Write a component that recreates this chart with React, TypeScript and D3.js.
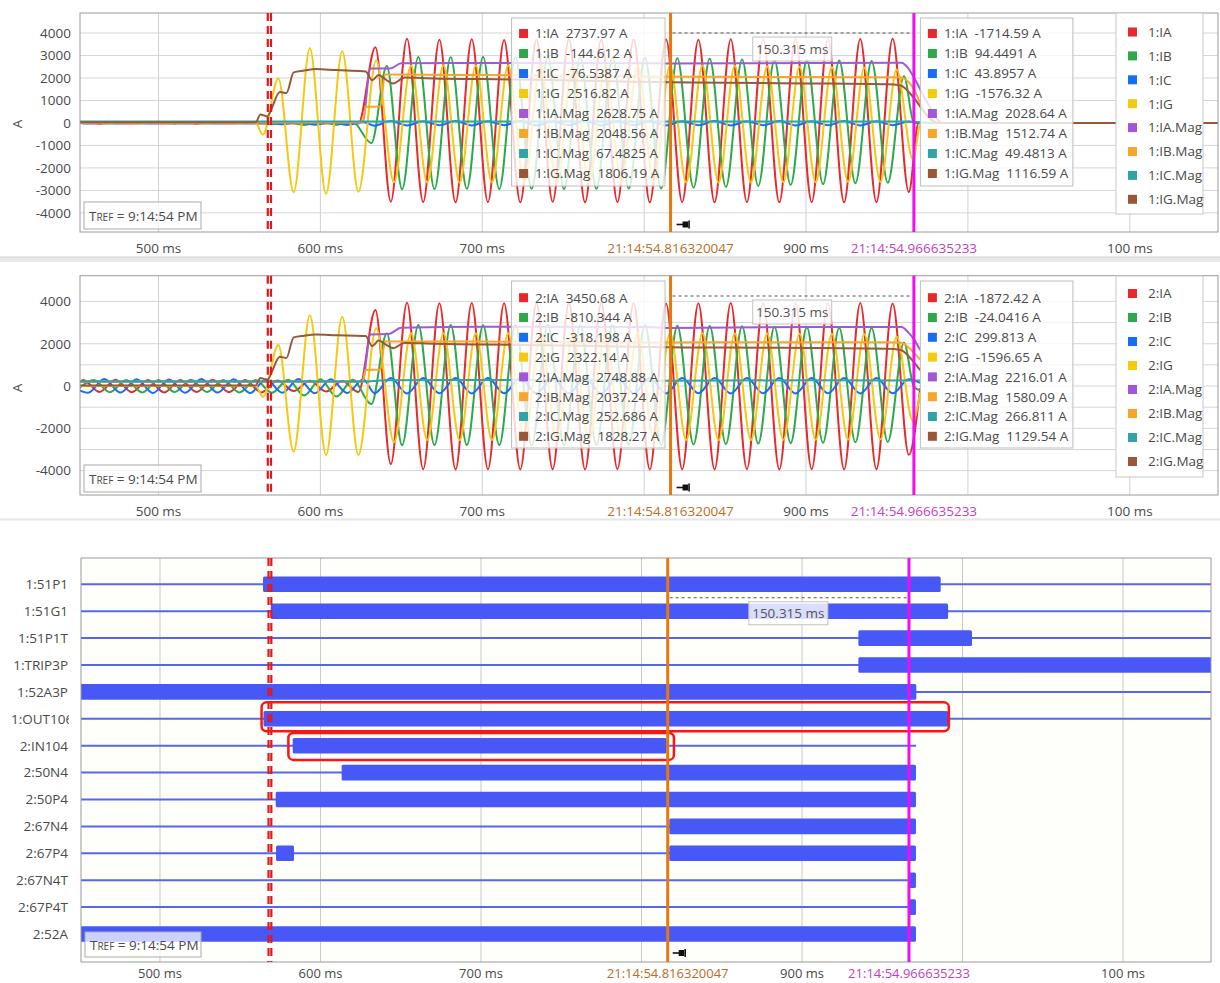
import React from 'react';
import * as d3 from 'd3';

type Pt = [number, number];

const FONT = '"Open Sans", "Noto Sans", "DejaVu Sans", sans-serif';
const TXT = '#4a4a4a';

const SERIES_KEYS = ['IA', 'IB', 'IC', 'IG', 'IA.Mag', 'IB.Mag', 'IC.Mag', 'IG.Mag'];
const SERIES_COLORS = ['#e8292c', '#2ea84b', '#176ef3', '#f4c90e', '#a158d8', '#f7a52b', '#2fa4a8', '#9a5738'];

const TICK_MS = [500, 600, 700, 800, 900, 1000, 1100];
const TICK_LABELS = ['500 ms', '600 ms', '700 ms', '', '900 ms', '', '100 ms'];

const TRIGGER_MS = 568.5;
const CURSOR_A_MS = 816.320047;
const CURSOR_B_MS = 966.635233;
const CURSOR_A_LABEL = '21:14:54.816320047';
const CURSOR_B_LABEL = '21:14:54.966635233';
const DELTA_LABEL = '150.315 ms';

// ---- time grids (ms after 21:14:54) of waveform extremes ----
const T_A_PRE = [453.5, 463.5, 473.5, 483.5, 493.5, 503.5, 513.5, 523.5, 533.5, 543.5, 553.5, 563.5, 573.5, 583.5, 593.5, 603.5, 613.5, 623.5];
const T_A = [634, 643.5, 653.5, 663.5, 673.5, 683.5, 693.5, 703.5, 713.5, 723.5, 733.5, 743.5, 753.5, 763.5, 773.5, 783.5, 793.5, 803.5, 813.5, 823.5, 833.5, 843.5, 853.5, 863.5, 873.5, 883.5, 893.5, 903.5, 913.5, 923.5, 933.5, 943.5, 953.5, 963.5];
const T_B_PRE = [460, 470, 480, 490, 500, 510, 520, 530, 540, 550, 560, 570, 580, 590, 600, 610, 620];
const T_B = [631.5, 641, 650.5, 660.5, 670.5, 680.5, 690.5, 700.5, 710.5, 720.5, 730.5, 740.5, 750.5, 760.5, 770.5, 780.5, 790.5, 800.5, 810.5, 820.5, 830.5, 840.5, 850.5, 860.5, 870.5, 880.5, 890.5, 900.5, 910.5, 920.5, 930.5, 940.5, 950.5, 960.5];
const T_C_PRE = [456.5, 466.5, 476.5, 486.5, 496.5, 506.5, 516.5, 526.5, 536.5, 546.5, 556.5, 566.5, 576.5, 586.5, 596.5, 606.5, 616.5, 626.5];
const T_C = [633.5, 643.5, 653.5, 663.5, 673.5, 683.5, 693.5, 703.5, 713.5, 723.5, 733.5, 743.5, 753.5, 763.5, 773.5, 783.5, 793.5, 803.5, 813.5, 823.5, 833.5, 843.5, 853.5, 863.5, 873.5, 883.5, 893.5, 903.5, 913.5, 923.5, 933.5, 943.5, 953.5, 963.5];
const T_G = [564.5, 574, 583.5, 593.5, 603.5, 613.5, 623.5, 634.5, 645.5, 656, 666, 676, 686, 696, 706, 716, 726, 736, 746, 756, 766, 776, 786, 796, 806, 816, 826, 836, 846, 856, 866, 876, 886, 896, 906, 916, 926, 936, 946, 956, 966];

// ---- relay 1 (panel 1) extreme values, A ----
const P1_IA_PRE = [30, -32, 28, -30, 32, -28, 30, -31, 29, -30, 31, -29, 20, -22, 18, -20, 22, -20];
const P1_IA = [3370, -3500, 3740, -3520, 3700, -3530, 3720, -3520, 3690, -3530, 3710, -3510, 3720, -3530, 3700, -3520, 3710, -3530, 3720, -3520, 3700, -3530, 3720, -3520, 3710, -3530, 3730, -3520, 3720, -3530, 3730, -3520, 3750, -3080];
const P1_IB_PRE = [30, -28, 31, -30, 29, -31, 30, -29, 31, -30, 28, -60, 40, -90, 50, -80, 40];
const P1_IB = [-900, 2530, -2950, 2930, -2940, 2920, -2930, 2930, -2940, 2920, -2930, 2930, -2940, 2920, -2930, 2910, -2920, 2900, -2910, 2880, -2880, 2850, -2850, 2820, -2800, 2800, -2760, 2790, -2720, 2780, -2680, 2760, -2660, 2080];
const P1_IC_PRE = [-30, 25, -28, 30, -25, 28, -30, 26, -28, 30, -25, 28, -60, 40, -80, 30, -90, 40];
const P1_IC = [-120, 90, -110, 80, -100, 90, -110, 80, -100, 90, -110, 80, -100, 90, -110, 80, -100, 90, -110, 80, -100, 90, -110, 80, -100, 90, -110, 80, -100, 90, -110, 80, -100, 60];
const P1_IG = [-520, 1980, -3080, 3320, -3150, 3190, -3060, 2780, -2640, 2560, -2650, 2570, -2660, 2560, -2650, 2570, -2660, 2560, -2650, 2560, -2660, 2570, -2650, 2560, -2660, 2550, -2650, 2560, -2660, 2540, -2650, 2520, -2640, 2500, -2640, 2480, -2630, 2460, -2620, 2380, -1620];
const P1_IA_MAG: Pt[] = [[451, 25], [626, 25], [631, 2420], [643, 2420], [650, 2650], [700, 2670], [800, 2660], [816, 2640], [900, 2670], [959, 2680], [963, 2450], [966.6, 2030], [975, 900], [984, 0], [1156, 0]];
const P1_IB_MAG: Pt[] = [[451, 20], [626, 20], [628, 720], [637, 730], [640, 2160], [700, 2130], [800, 2070], [900, 2040], [958, 2030], [966.6, 1512], [973, 500], [980, 0], [1156, 0]];
const P1_IC_MAG: Pt[] = [[451, 60], [960, 65], [966.6, 49], [978, 0], [1156, 0]];
const P1_IG_MAG: Pt[] = [[451, 30], [560, 30], [563, 380], [567, 300], [575, 1380], [579, 1330], [583.5, 2250], [590, 2330], [597, 2400], [610, 2350], [626, 2300], [628, 2290], [632, 1900], [636, 2130], [640, 1950], [645, 1760], [652, 2020], [670, 1980], [700, 1950], [750, 1900], [800, 1830], [816, 1806], [850, 1790], [900, 1760], [950, 1720], [958, 1680], [966.6, 1116], [974, 400], [982, 0], [1156, 0]];

// ---- relay 2 (panel 2) extreme values, A ----
const P2_IA_PRE = [290, -280, 300, -290, 280, -300, 290, -280, 300, -290, 280, -300, 260, -240, 250, -260, 240, -280];
const P2_IA = [3590, -3690, 3940, -3930, 3910, -3940, 3920, -3930, 3910, -3940, 3900, -3930, 3910, -3940, 3920, -3930, 3910, -3940, 3900, -3930, 3910, -3940, 3920, -3930, 3910, -3940, 3920, -3930, 3910, -3940, 3920, -3930, 3900, -3250];
const P2_IB_PRE = [285, -290, 280, -300, 290, -285, 295, -280, 290, -300, 280, -320, 300, -450, 320, -500, 300];
const P2_IB = [-850, 2500, -2800, 2880, -2790, 2880, -2790, 2870, -2790, 2880, -2800, 2880, -2790, 2870, -2790, 2880, -2780, 2870, -2770, 2850, -2760, 2840, -2740, 2820, -2720, 2800, -2700, 2780, -2680, 2760, -2660, 2740, -2640, 2050];
const P2_IC_PRE = [-320, 330, -310, 320, -330, 310, -320, 330, -310, 320, -330, 310, -320, 330, -340, 320, -330, 310];
const P2_IC = [-340, 380, -350, 380, -345, 375, -350, 380, -345, 380, -350, 375, -345, 380, -350, 380, -345, 375, -350, 380, -345, 380, -350, 375, -345, 380, -350, 380, -345, 375, -350, 380, -345, 320];
const P2_IG = [-505, 1940, -3100, 3350, -3260, 3280, -3260, 2730, -2650, 2490, -2550, 2500, -2560, 2490, -2550, 2500, -2560, 2490, -2550, 2500, -2560, 2490, -2550, 2500, -2560, 2490, -2550, 2500, -2560, 2480, -2550, 2480, -2540, 2470, -2540, 2460, -2530, 2450, -2520, 2330, -1650];
const P2_IA_MAG: Pt[] = [[451, 215], [626, 215], [631, 2440], [642, 2460], [650, 2760], [700, 2800], [800, 2790], [816, 2749], [900, 2790], [959, 2790], [963, 2550], [966.6, 2216], [970.5, 1700]];
const P2_IB_MAG: Pt[] = [[451, 205], [626, 205], [628, 760], [637, 770], [640, 2110], [700, 2100], [800, 2060], [900, 2070], [958, 2060], [966.6, 1580], [970.5, 1250]];
const P2_IC_MAG: Pt[] = [[451, 215], [626, 215], [640, 270], [700, 285], [816, 253], [900, 275], [966.6, 267], [970.5, 262]];
const P2_IG_MAG: Pt[] = [[451, 30], [560, 30], [563, 380], [567, 300], [575, 1380], [579, 1330], [583.5, 2300], [590, 2380], [597, 2430], [610, 2400], [626, 2370], [628, 2360], [632, 1880], [636, 2150], [640, 1980], [645, 1790], [652, 2040], [670, 2000], [700, 1960], [750, 1920], [800, 1850], [816, 1828], [850, 1820], [900, 1800], [950, 1760], [958, 1720], [966.6, 1129], [970.5, 750]];

// ---- cursor readouts ----
const TIP1_A = ['2737.97', '-144.612', '-76.5387', '2516.82', '2628.75', '2048.56', '67.4825', '1806.19'];
const TIP1_B = ['-1714.59', '94.4491', '43.8957', '-1576.32', '2028.64', '1512.74', '49.4813', '1116.59'];
const TIP2_A = ['3450.68', '-810.344', '-318.198', '2322.14', '2748.88', '2037.24', '252.686', '1828.27'];
const TIP2_B = ['-1872.42', '-24.0416', '299.813', '-1596.65', '2216.01', '1580.09', '266.811', '1129.54'];

// ---- digital channels ----
const DIG_NAMES = ['1:51P1', '1:51G1', '1:51P1T', '1:TRIP3P', '1:52A3P', '1:OUT106', '2:IN104', '2:50N4', '2:50P4', '2:67N4', '2:67P4', '2:67N4T', '2:67P4T', '2:52A'];
const DIG_ON: [number, number][][] = [
  [[564.2, 986.4]],
  [[569.0, 991.0]],
  [[935.1, 1005.9]],
  [[935.1, 1156]],
  [[449, 971.2]],
  [[564.5, 991.2]],
  [[582.7, 815.7]],
  [[613.2, 971.0]],
  [[572.1, 971.0]],
  [[817.3, 971.0]],
  [[572.3, 583.5], [817.3, 971.0]],
  [[966.3, 971.0]],
  [[966.3, 971.0]],
  [[449, 971.0]],
];
const DIG_END = [1156, 1156, 1156, 1156, 1156, 1156, 971, 971, 971, 971, 971, 971, 971, 971];
const ANNOT = [{ row: 5, t0: 563.3, t1: 991.5, dy: -16.5, h: 29 }, { row: 6, t0: 580, t1: 820.2, dy: -12.8, h: 27 }];

const zip = (t: number[], v: number[]): Pt[] => t.map((tt, i) => [tt, v[i]] as Pt);

const P1_SERIES: Pt[][] = [
  [[451, 10], ...zip(T_A_PRE, P1_IA_PRE), ...zip(T_A, P1_IA), [969.5, 0], [1156, 0]],
  [[451, -10], ...zip(T_B_PRE, P1_IB_PRE), ...zip(T_B, P1_IB), [966.5, 40], [969, 0], [1156, 0]],
  [[451, 0], ...zip(T_C_PRE, P1_IC_PRE), ...zip(T_C, P1_IC), [970, 0], [1156, 0]],
  [[451, 0], [560, 0], ...zip(T_G, P1_IG), [971, 0], [1156, 0]],
  P1_IA_MAG, P1_IB_MAG, P1_IC_MAG, P1_IG_MAG,
];
const P2_SERIES: Pt[][] = [
  [[451, 150], ...zip(T_A_PRE, P2_IA_PRE), ...zip(T_A, P2_IA), [970.5, -100]],
  [[451, -100], ...zip(T_B_PRE, P2_IB_PRE), ...zip(T_B, P2_IB), [966.6, -24], [970.5, -200]],
  [[451, -200], ...zip(T_C_PRE, P2_IC_PRE), ...zip(T_C, P2_IC), [970.5, 150]],
  [[451, 0], [560, 0], ...zip(T_G, P2_IG), [970.5, -300]],
  P2_IA_MAG, P2_IB_MAG, P2_IC_MAG, P2_IG_MAG,
];

const TOP_DOMAIN: [number, number] = [451.5, 1154.5];
const DIG_DOMAIN: [number, number] = [450.8, 1154.8];

let ctx: CanvasRenderingContext2D | null = null;
function textWidth(s: string, font: string) {
  if (!ctx) ctx = document.createElement('canvas').getContext('2d');
  if (!ctx) return s.length * 7;
  ctx.font = font;
  return ctx.measureText(s).width;
}

function Pin({ x, y }: { x: number; y: number }) {
  return (
    <g>
      <line x1={x} x2={x + 7} y1={y} y2={y} stroke="#111" strokeWidth={1.6} />
      <rect x={x + 6} y={y - 3} width={5.5} height={6} fill="#111" />
      <line x1={x + 12.5} x2={x + 12.5} y1={y - 4} y2={y + 4} stroke="#111" strokeWidth={1.6} />
    </g>
  );
}

function Tref({ x, y, w, h }: { x: number; y: number; w: number; h: number }) {
  return (
    <g>
      <rect x={x} y={y} width={w} height={h} fill="#fff" fillOpacity={0.72} stroke="#a9a9a9" />
      <text x={x + 5} y={y + h / 2 + 5} fontSize={13.5} fill={TXT} style={{ whiteSpace: 'pre' }}>
        T<tspan fontSize={10}>REF</tspan>
        <tspan> = 9:14:54 PM</tspan>
      </text>
    </g>
  );
}

type PanelCfg = {
  id: string; x0: number; x1: number; y0: number; y1: number; yDom: [number, number];
  yLabels: number[]; yGrid: number[]; tipTop: number; tipRow0: number; tipStep: number; tipH: number;
  legTop: number; legRow0: number; legStep: number; legH: number; dashY: number; labelY: number; titleY: number; pinY: number; prefix: string;
};

const P1_CFG: PanelCfg = {
  id: 'p1', x0: 80, x1: 1218, y0: 13, y1: 232, yDom: [-4850, 4890],
  yLabels: [-4000, -3000, -2000, -1000, 0, 1000, 2000, 3000, 4000], yGrid: [-4000, -3000, -2000, -1000, 0, 1000, 2000, 3000, 4000],
  tipTop: 18, tipRow0: 33.5, tipStep: 20, tipH: 168, legTop: 13, legRow0: 32, legStep: 23.9, legH: 201,
  dashY: 33, labelY: 253, titleY: 124, pinY: 224.5, prefix: '1:',
};
const P2_CFG: PanelCfg = {
  id: 'p2', x0: 80, x1: 1218, y0: 275.7, y1: 495, yDom: [-5150, 5215],
  yLabels: [-4000, -2000, 0, 2000, 4000], yGrid: [-4000, -3000, -2000, -1000, 0, 1000, 2000, 3000, 4000],
  tipTop: 281, tipRow0: 297.7, tipStep: 19.8, tipH: 167, legTop: 276, legRow0: 293.5, legStep: 24, legH: 201,
  dashY: 296, labelY: 516, titleY: 388, pinY: 487.5, prefix: '2:',
};

function Tooltip({ x, top, w, h, row0, step, prefix, values }: { x: number; top: number; w: number; h: number; row0: number; step: number; prefix: string; values: string[] }) {
  return (
    <g>
      <rect x={x} y={top} width={w} height={h} fill="#fff" fillOpacity={0.8} stroke="#bdbdbd" />
      {SERIES_KEYS.map((k, i) => {
        const cy = row0 + i * step;
        return (
          <g key={k}>
            <rect x={x + 7.5} y={cy - 4.5} width={9} height={9} fill={SERIES_COLORS[i]} />
            <text x={x + 23.5} y={cy + 4.8} fontSize={13.5} fill={TXT} style={{ whiteSpace: 'pre' }}>{`${prefix}${k}  ${values[i]} A`}</text>
          </g>
        );
      })}
    </g>
  );
}

function AnalogPanel({ cfg, series, tipA, tipB }: { cfg: PanelCfg; series: Pt[][]; tipA: string[]; tipB: string[] }) {
  const x = d3.scaleLinear().domain(TOP_DOMAIN).range([cfg.x0, cfg.x1]);
  const y = d3.scaleLinear().domain(cfg.yDom).range([cfg.y1, cfg.y0]);
  const line = d3.line<Pt>().x((d) => x(d[0])).y((d) => y(d[1])).curve(d3.curveMonotoneX);
  const xa = x(CURSOR_A_MS), xb = x(CURSOR_B_MS), xt = x(TRIGGER_MS);
  const mid = (xa + xb) / 2;
  return (
    <g>
      <defs>
        <clipPath id={`clip-${cfg.id}`}>
          <rect x={cfg.x0} y={cfg.y0} width={cfg.x1 - cfg.x0} height={cfg.y1 - cfg.y0} />
        </clipPath>
      </defs>
      <rect x={cfg.x0} y={cfg.y0} width={cfg.x1 - cfg.x0} height={cfg.y1 - cfg.y0} fill="#fff" />
      {cfg.yGrid.map((v) => (
        <line key={v} x1={cfg.x0} x2={cfg.x1} y1={y(v)} y2={y(v)} stroke="#d6d6d6" strokeWidth={1} />
      ))}
      {TICK_MS.map((t) => (
        <line key={t} x1={x(t)} x2={x(t)} y1={cfg.y0} y2={cfg.y1} stroke="#d0d0d0" strokeWidth={1} />
      ))}
      <g clipPath={`url(#clip-${cfg.id})`}>
        {series.map((s, i) => (
          <path key={i} d={line(s) || ''} fill="none" stroke={SERIES_COLORS[i]} strokeWidth={2} strokeLinejoin="round" />
        ))}
      </g>
      <rect x={cfg.x0} y={cfg.y0} width={cfg.x1 - cfg.x0} height={cfg.y1 - cfg.y0} fill="none" stroke="#9a9a9a" />
      {cfg.yLabels.map((v) => (
        <text key={v} x={71} y={y(v) + 4.8} textAnchor="end" fontSize={13.5} fill={TXT}>{v}</text>
      ))}
      <text transform={`translate(22,${cfg.titleY}) rotate(-90)`} textAnchor="middle" fontSize={13.5} fill={TXT}>A</text>
      {TICK_MS.map((t, i) => TICK_LABELS[i] ? (
        <text key={t} x={x(t)} y={cfg.labelY} textAnchor="middle" fontSize={13.5} fill={TXT}>{TICK_LABELS[i]}</text>
      ) : null)}
      <line x1={xt - 1.6} x2={xt - 1.6} y1={cfg.y0} y2={cfg.y1} stroke="#e3161b" strokeWidth={2.2} strokeDasharray="8 5" />
      <line x1={xt + 1.6} x2={xt + 1.6} y1={cfg.y0} y2={cfg.y1} stroke="#e3161b" strokeWidth={2.2} strokeDasharray="8 5" />
      <line x1={xa + 2} x2={xb - 2} y1={cfg.dashY} y2={cfg.dashY} stroke="#555" strokeWidth={1} strokeDasharray="3 3" />
      <rect x={mid - 39.5} y={cfg.dashY + 4} width={79} height={24} fill="#fff" fillOpacity={0.85} stroke="#c2c2c2" />
      <text x={mid} y={cfg.dashY + 21} textAnchor="middle" fontSize={13.5} fill="#555">{DELTA_LABEL}</text>
      <line x1={xa} x2={xa} y1={cfg.y0} y2={cfg.y1} stroke="#e8780e" strokeWidth={3} />
      <line x1={xb} x2={xb} y1={cfg.y0} y2={cfg.y1} stroke="#f20cf2" strokeWidth={3} />
      <text x={xa} y={cfg.labelY} textAnchor="middle" fontSize={13.5} fill="#b86e26">{CURSOR_A_LABEL}</text>
      <text x={xb} y={cfg.labelY} textAnchor="middle" fontSize={13.5} fill="#c23ec2">{CURSOR_B_LABEL}</text>
      <Tooltip x={xa - 159} top={cfg.tipTop} w={153.5} h={cfg.tipH} row0={cfg.tipRow0} step={cfg.tipStep} prefix={cfg.prefix} values={tipA} />
      <Tooltip x={xb + 6.5} top={cfg.tipTop} w={152.5} h={cfg.tipH} row0={cfg.tipRow0} step={cfg.tipStep} prefix={cfg.prefix} values={tipB} />
      <rect x={1116} y={cfg.legTop} width={87} height={cfg.legH} fill="#fff" stroke="#c8c8c8" />
      {SERIES_KEYS.map((k, i) => {
        const cy = cfg.legRow0 + i * cfg.legStep;
        return (
          <g key={k}>
            <rect x={1128} y={cy - 4.5} width={9} height={9} fill={SERIES_COLORS[i]} />
            <text x={1148} y={cy + 4.8} fontSize={13.5} fill={TXT}>{`${cfg.prefix}${k}`}</text>
          </g>
        );
      })}
      <Tref x={84} y={cfg.y1 - 30} w={117} h={27} />
      <Pin x={xa + 6} y={cfg.pinY} />
    </g>
  );
}

function DigitalPanel() {
  const x0 = 81, x1 = 1211, y0 = 558, y1 = 962;
  const x = d3.scaleLinear().domain(DIG_DOMAIN).range([x0, x1]);
  const row = d3.scaleLinear().domain([0, 13]).range([584.3, 934]);
  const xa = x(CURSOR_A_MS), xb = x(CURSOR_B_MS), xt = x(TRIGGER_MS);
  const mid = (xa + xb) / 2;
  const dashY = (row(0) + row(1)) / 2;
  const font = `13.5px ${FONT}`;
  const labY = 977.5;
  return (
    <g>
      <defs>
        <clipPath id="clip-dig"><rect x={x0} y={y0} width={x1 - x0} height={y1 - y0} /></clipPath>
        <clipPath id="clip-lab"><rect x={0} y={y0} width={69} height={y1 - y0} /></clipPath>
      </defs>
      <rect x={x0} y={y0} width={x1 - x0} height={y1 - y0} fill="#fefefb" />
      {TICK_MS.map((t) => (
        <line key={t} x1={x(t)} x2={x(t)} y1={y0} y2={y1} stroke="#c9c9c9" strokeWidth={1} />
      ))}
      <g clipPath="url(#clip-dig)">
        {DIG_NAMES.map((n, i) => (
          <g key={n}>
            <line x1={x0} x2={x(DIG_END[i])} y1={row(i)} y2={row(i)} stroke="#5566ee" strokeWidth={2} />
            {DIG_ON[i].map((iv, j) => (
              <rect key={j} x={x(iv[0])} y={row(i) - 7.8} width={x(iv[1]) - x(iv[0])} height={15.6} rx={1.5} fill="#4858f6" />
            ))}
          </g>
        ))}
      </g>
      <rect x={x0} y={y0} width={x1 - x0} height={y1 - y0} fill="none" stroke="#9a9a9a" />
      <g clipPath="url(#clip-lab)">
        {DIG_NAMES.map((n, i) => {
          const wide = textWidth(n, font) > 57;
          return (
            <text key={n} x={wide ? 11 : 68} y={row(i) + 4.8} textAnchor={wide ? 'start' : 'end'} fontSize={13.5} fill={TXT}>{n}</text>
          );
        })}
      </g>
      {TICK_MS.map((t, i) => TICK_LABELS[i] ? (
        <text key={t} x={x(t)} y={labY} textAnchor="middle" fontSize={13} fill={TXT}>{TICK_LABELS[i]}</text>
      ) : null)}
      <line x1={xt - 1.4} x2={xt - 1.4} y1={y0} y2={y1} stroke="#e3161b" strokeWidth={2.2} strokeDasharray="8 5" />
      <line x1={xt + 1.4} x2={xt + 1.4} y1={y0} y2={y1} stroke="#e3161b" strokeWidth={2.2} strokeDasharray="8 5" />
      <line x1={xa + 2} x2={xb - 2} y1={dashY} y2={dashY} stroke="#555" strokeWidth={1} strokeDasharray="3 3" />
      <rect x={mid - 39.5} y={dashY + 4} width={79} height={23} fill="#fff" fillOpacity={0.8} stroke="#c2c2c2" />
      <text x={mid} y={dashY + 20.5} textAnchor="middle" fontSize={13.5} fill="#555">{DELTA_LABEL}</text>
      {ANNOT.map((a, k) => (
        <rect key={k} x={x(a.t0)} y={row(a.row) + a.dy} width={x(a.t1) - x(a.t0)} height={a.h} rx={5} fill="none" stroke="#ff1414" strokeWidth={2.5} />
      ))}
      <line x1={xa} x2={xa} y1={y0} y2={y1} stroke="#e8780e" strokeWidth={3} />
      <line x1={xb} x2={xb} y1={y0} y2={y1} stroke="#f20cf2" strokeWidth={3} />
      <text x={xa} y={labY} textAnchor="middle" fontSize={13} fill="#b86e26">{CURSOR_A_LABEL}</text>
      <text x={xb} y={labY} textAnchor="middle" fontSize={13} fill="#c23ec2">{CURSOR_B_LABEL}</text>
      <Tref x={85} y={932} w={116} h={25} />
      <Pin x={xa + 5} y={953} />
    </g>
  );
}

export default function App() {
  return (
    <div style={{ position: 'absolute', left: 0, top: 0, width: 1220, height: 983, background: '#fff' }}>
      <svg width={1220} height={983} style={{ display: 'block', fontFamily: FONT }}>
        <rect x={0} y={0} width={1220} height={983} fill="#fff" />
        <AnalogPanel cfg={P1_CFG} series={P1_SERIES} tipA={TIP1_A} tipB={TIP1_B} />
        <rect x={0} y={257} width={1220} height={5} fill="#e8e8e8" />
        <line x1={0} x2={1220} y1={257} y2={257} stroke="#d2d2d2" />
        <AnalogPanel cfg={P2_CFG} series={P2_SERIES} tipA={TIP2_A} tipB={TIP2_B} />
        <rect x={0} y={518.5} width={1220} height={2} fill="#e6e6e6" />
        <DigitalPanel />
      </svg>
    </div>
  );
}
